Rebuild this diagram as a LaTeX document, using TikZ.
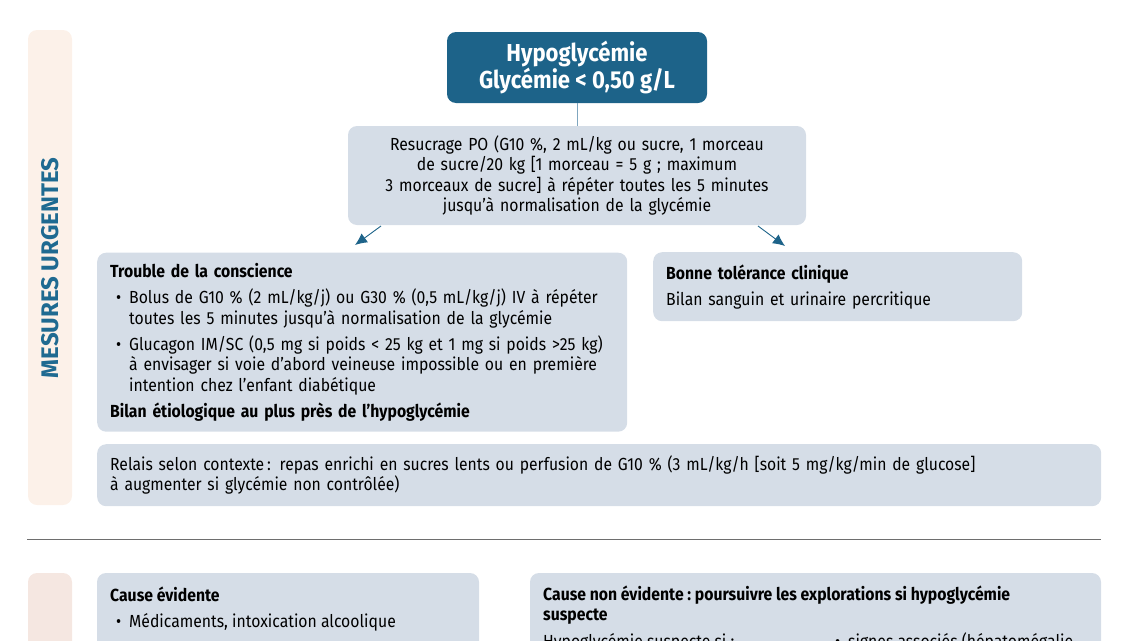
\documentclass[tikz,border=0pt]{standalone}
\usepackage{fontspec}
\setmainfont{Fira Sans}[FakeStretch=0.9]
\newfontfamily\condfont[FakeStretch=0.897]{Fira Sans}
\newfontfamily\titlefont[FakeStretch=0.9]{Fira Sans}
\newfontfamily\vertfont{Fira Sans}
\usetikzlibrary{arrows.meta}
\definecolor{boxfill}{HTML}{D5DDE7}
\definecolor{darkblue}{HTML}{1D6389}
\definecolor{vtext}{HTML}{1F6A91}
\definecolor{bandtop}{HTML}{FCF1E9}
\definecolor{bandbot}{HTML}{F5E7E1}
\definecolor{linkline}{HTML}{7FA6BF}
\definecolor{rulegray}{HTML}{6E6E6E}
\newcommand{\bitem}[1]{\par\hangindent=19pt\hangafter=1\noindent\hbox to 19pt{\hspace{6pt}\textbullet\hfil}#1\par}
\newcommand{\nl}{\hfil\break}
\tikzset{
  box/.style={fill=boxfill, rounded corners=9pt, inner xsep=13pt, inner ysep=0pt, align=left},
  band/.style={rounded corners=9pt, draw=none},
  arr/.style={draw=darkblue, line width=0.9pt, -{Latex[length=12pt,width=11pt]}},
  boldline/.style={anchor=base west, inner sep=0pt, font=\bfseries\fontsize{17.5}{20.5}\selectfont},
  plainline/.style={anchor=base west, inner sep=0pt},
}
\begin{document}
\begin{tikzpicture}[x=1pt,y=-1pt, font=\fontsize{17.5}{20.5}\selectfont]
\useasboundingbox (0,0) rectangle (1132,640);
\clip (0,0) rectangle (1132,640);
% bands
\fill[bandtop, band] (28,30) rectangle (72,505);
\node[rotate=90, text=vtext, font=\vertfont\bfseries\fontsize{24}{24}\selectfont] (mu) at (50,268) {MESURES URGENTES};
\fill[bandbot, band] (28,573) rectangle (72,680);
% title
\node[fill=darkblue, rounded corners=9pt, text=white, align=center, minimum width=260pt, minimum height=71pt, inner sep=0pt, font=\titlefont\bfseries\fontsize{24.5}{25}\selectfont] (hypo) at (577,67.5) {Hypoglycémie\\Glycémie < 0,50 g/L};
% resucrage
\node[box, align=center, minimum width=458pt, minimum height=99pt, text width=432pt] (res) at (577,175.5) {Resucrage PO (G10 \%, 2 mL/kg ou sucre, 1 morceau\\de sucre/20 kg [1 morceau = 5 g ; maximum\\3 morceaux de sucre] à répéter toutes les 5 minutes\\jusqu’à normalisation de la glycémie};
\draw[linkline, line width=1pt] (hypo.south) -- (res.north);
% trouble
\node[box, anchor=north west, minimum width=530pt, minimum height=179pt, text width=504pt] (trb) at (97,252.5) {\setlength{\parskip}{5.5pt}\textbf{Trouble de la conscience}
\bitem{Bolus de G10 \% (2 mL/kg/j) ou G30 \% (0,5 mL/kg/j) IV à répéter\nl toutes les 5 minutes jusqu’à normalisation de la glycémie}
\bitem{Glucagon IM/SC (0,5 mg si poids < 25 kg et 1 mg si poids >25 kg)\nl à envisager si voie d’abord veineuse impossible ou en première\nl intention chez l’enfant diabétique}
\noindent\textbf{Bilan étiologique au plus près de l’hypoglycémie}};
% bonne
\node[box, anchor=north west, minimum width=369pt, minimum height=69pt, text width=343pt] (bon) at (653,252) {\setlength{\parskip}{5.5pt}\textbf{Bonne tolérance clinique}\par Bilan sanguin et urinaire percritique};
% arrows
\coordinate (a1s) at (381,226);
\coordinate (a1e) at (355,245);
\coordinate (a2s) at (758,226);
\coordinate (a2e) at (785,246);
\draw[arr] (a1s) -- (a1e);
\draw[arr] (a2s) -- (a2e);
% relais
\node[box, anchor=north west, minimum width=1004pt, minimum height=62pt, text width=978pt] (rel) at (97,444) {\condfont Relais selon contexte\,: repas enrichi en sucres lents ou perfusion de G10 \% (3 mL/kg/h [soit 5 mg/kg/min de glucose]\\à augmenter si glycémie non contrôlée)};
% rule
\coordinate (r1) at (27,539);
\coordinate (r2) at (1101,539);
\draw[rulegray, line width=0.9pt] (r1) -- (r2);
% bottom boxes
\fill[boxfill, rounded corners=9pt] (97,573) rectangle (479,680);
\fill[boxfill, rounded corners=9pt] (530,573) rectangle (1101,680);
\node[boldline] (ce) at (110,601) {Cause évidente};
\node[plainline] (ce1) at (110,627) {\hbox to 19pt{\hspace{6pt}\textbullet\hfil}Médicaments, intoxication alcoolique};
\node[boldline] (cn) at (543,600) {Cause non évidente\ :\ poursuivre les explorations si hypoglycémie};
\node[boldline] (cn2) at (543,620) {suspecte};
\node[plainline] (hs) at (543,647) {Hypoglycémie suspecte si :};
\node[plainline] (sa) at (829,647) {\hbox to 19pt{\hspace{6pt}\textbullet\hfil}signes associés (hépatomégalie};
\end{tikzpicture}
\end{document}
